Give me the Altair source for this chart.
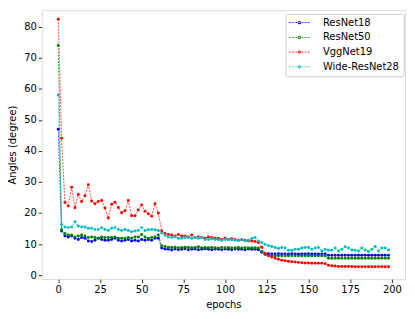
import altair as alt
import pandas as pd

# ---------------- data ----------------
epochs = list(range(0, 200, 2))

resnet18 = [
    47.0, 14.2, 12.6, 12.3, 12.6, 11.9, 11.5, 12.1, 11.9, 11.0,
    10.8, 11.2, 11.9, 11.5, 11.2, 11.2, 11.5, 11.9, 11.2, 11.0,
    11.2, 11.5, 11.0, 11.2, 11.0, 11.5, 11.2, 11.5, 11.2, 11.9,
    11.9,
    8.7, 8.4, 8.3, 8.1, 8.4, 8.2, 8.3, 8.5, 8.2, 8.3,
    8.4, 8.2, 8.3, 8.5, 8.3, 8.2, 8.4, 8.3, 8.2, 8.4,
    8.3, 8.2, 8.4, 8.3, 8.3, 8.2, 8.4, 8.3, 8.3, 8.2,
    7.4, 6.9,
    6.9, 6.8, 6.8, 6.9, 6.8, 6.8, 6.8, 6.9, 6.8, 6.8,
    6.8, 6.8, 6.9, 6.8, 6.8, 6.8, 6.8, 6.8,
    6.4, 6.4, 6.4, 6.4, 6.4, 6.4, 6.4, 6.4, 6.4, 6.4,
    6.4, 6.4, 6.4, 6.4, 6.4, 6.4, 6.4, 6.4, 6.4,
]

resnet50 = [
    74.0, 14.6, 13.4, 12.9, 12.9, 12.3, 12.6, 12.9, 12.6, 12.1,
    12.3, 12.1, 11.9, 12.3, 12.1, 12.1, 12.1, 12.3, 11.9, 11.9,
    11.9, 12.1, 11.9, 12.3, 12.3, 13.1, 12.3, 11.9, 12.1, 12.3,
    12.9,
    9.5, 9.2, 9.0, 8.9, 9.0, 8.8, 8.9, 9.0, 8.9, 8.8,
    8.9, 9.1, 8.8, 8.9, 8.8, 8.9, 8.8, 8.7, 8.9, 8.8,
    8.9, 8.7, 8.8, 8.9, 8.7, 8.8, 8.7, 8.8, 8.8, 8.7,
    7.6, 6.6,
    6.2, 6.2, 6.2, 6.2, 6.2, 6.2, 6.2, 6.2, 6.2, 6.2,
    6.2, 6.2, 6.2, 6.2, 6.2, 6.2, 6.2, 6.2,
    5.4, 5.4, 5.4, 5.4, 5.4, 5.4, 5.4, 5.4, 5.4, 5.4,
    5.4, 5.4, 5.4, 5.4, 5.4, 5.4, 5.4, 5.4, 5.4,
]

vggnet19 = [
    82.4, 44.1, 23.4, 22.3, 28.3, 21.7, 26.0, 23.7, 25.6, 29.1,
    23.9, 23.0, 23.7, 24.0, 21.6, 18.4, 22.8, 23.5, 21.8, 20.1,
    20.7, 24.0, 19.1, 19.1, 21.0, 22.6, 20.6, 19.8, 19.0, 23.0,
    20.0,
    14.2, 13.4, 13.1, 12.9, 12.6, 13.1, 12.6, 12.5, 12.3, 12.9,
    12.1, 12.3, 12.1, 11.9, 12.3, 12.1, 11.9, 11.9, 11.5, 11.9,
    11.5, 11.7, 11.5, 11.2, 11.4, 11.2, 11.0, 11.0, 10.8, 10.5,
    9.0, 7.0, 6.3, 5.8, 5.4, 5.1, 4.8, 4.6, 4.5, 4.3,
    4.2, 4.1, 4.0, 3.9, 3.9, 3.8, 3.8, 3.8, 3.8, 3.7,
    3.2, 3.0, 2.9, 2.8, 2.8, 2.8, 2.8, 2.8, 2.7, 2.7,
    2.7, 2.7, 2.7, 2.7, 2.7, 2.7, 2.7, 2.7, 2.7,
]

wide_resnet28 = [
    58.0, 16.3, 15.5, 15.3, 15.5, 17.2, 15.8, 15.5, 15.5, 15.1,
    15.1, 14.7, 14.7, 15.3, 14.7, 14.4, 15.1, 15.3, 14.7, 14.4,
    14.7, 14.4, 14.0, 14.2, 14.4, 15.3, 14.4, 14.6, 14.7, 14.6,
    14.4,
    13.6, 12.8, 12.3, 12.1, 12.3, 11.9, 11.9, 12.1, 12.1, 11.9,
    12.1, 11.9, 12.1, 11.5, 11.5, 11.7, 11.5, 11.5, 11.2, 11.5,
    11.5, 11.4, 11.2, 11.2, 11.4, 11.0, 11.2, 11.8, 12.1, 11.0,
    10.5, 9.9, 9.5, 9.2, 8.9, 8.6,
    8.9, 8.7, 8.0, 8.0, 8.3, 8.3, 8.7, 8.9, 8.9, 8.3,
    8.7, 8.9, 7.8, 8.3, 8.0, 8.0, 8.7, 7.8, 8.3, 9.1,
    8.7, 8.1, 8.0, 7.8, 8.7, 8.1, 7.6, 8.3, 9.2, 7.8,
    8.7, 8.7, 8.1,
]

series_names = ["ResNet18", "ResNet50", "VggNet19", "Wide-ResNet28"]
series_colors = ["#0000ff", "#008000", "#ff0000", "#00bfbf"]
x_ticks = [0, 25, 50, 75, 100, 125, 150, 175, 200]
y_ticks = [0, 10, 20, 30, 40, 50, 60, 70, 80]

rows = []
for name, vals in zip(series_names, [resnet18, resnet50, vggnet19, wide_resnet28]):
    for e, v in zip(epochs, vals):
        rows.append({"epoch": e, "angle": v, "model": name})
df = pd.DataFrame(rows)

# ---------------- legend symbol: dashed line with a dot ----------------
def legend_path():
    half = 3.43
    h = 0.12
    dash, gap = 0.66, 0.37
    parts = []
    x = -half
    while x < half:
        x1 = min(x + dash, half)
        parts.append(f"M{x:.3f},{-h:.3f}H{x1:.3f}V{h:.3f}H{x:.3f}Z")
        x += dash + gap
    r = 0.55
    parts.append(f"M{-r},0A{r},{r} 0 1,0 {r},0A{r},{r} 0 1,0 {-r},0Z")
    return "".join(parts)

FONT = "DejaVu Sans"

x_enc = alt.X(
    "epoch:Q",
    scale=alt.Scale(domain=[-9.9, 207.9], nice=False, zero=False),
    axis=alt.Axis(values=x_ticks, title="epochs", grid=False, domain=False,
                  tickSize=3.5, tickWidth=0.8, tickColor="black",
                  labelFont=FONT, labelFontSize=10, labelColor="black",
                  labelPadding=2, labelFlush=False, labelOverlap=False,
                  titleFont=FONT, titleFontSize=10, titleFontWeight="normal",
                  titleColor="black", titlePadding=5),
)
y_enc = alt.Y(
    "angle:Q",
    scale=alt.Scale(domain=[-1.285, 85.36], nice=False, zero=False),
    axis=alt.Axis(values=y_ticks, title="Angles (degree)", grid=False, domain=False,
                  tickSize=3.5, tickWidth=0.8, tickColor="black",
                  labelFont=FONT, labelFontSize=10, labelColor="black",
                  labelPadding=2, labelFlush=False, labelOverlap=False,
                  titleFont=FONT, titleFontSize=10, titleFontWeight="normal",
                  titleColor="black", titlePadding=6),
)
color_scale = alt.Scale(domain=series_names, range=series_colors)

lines = alt.Chart(df).mark_line(strokeWidth=0.7, strokeDash=[2, 1.2]).encode(
    x=x_enc, y=y_enc,
    color=alt.Color("model:N", scale=color_scale, legend=None),
    detail="model:N",
)

points = alt.Chart(df).mark_circle(size=9, opacity=1).encode(
    x=x_enc, y=y_enc,
    color=alt.Color(
        "model:N", scale=color_scale,
        legend=alt.Legend(
            title=None, orient="none", legendX=245.6, legendY=3.7,
            symbolType=legend_path(), symbolSize=36, symbolStrokeWidth=0,
            symbolOpacity=1,
            labelFont=FONT, labelFontSize=10, labelColor="black",
            padding=4, rowPadding=4.8, symbolOffset=5, labelOffset=18.7,
            fillColor="rgba(255,255,255,0.8)", strokeColor="#cccccc",
            cornerRadius=2,
        ),
    ),
)

chart = alt.layer(lines, points).resolve_legend(color="independent").properties(
    width=366, height=271,
    autosize=alt.AutoSizeParams(type="none"),
    padding={"left": 34, "top": 1, "right": 2, "bottom": 31},
    background="white",
).configure_view(stroke="black", strokeWidth=0.8).configure(font=FONT)

chart.save("out.html", embed_options={"renderer": "svg", "actions": False})
